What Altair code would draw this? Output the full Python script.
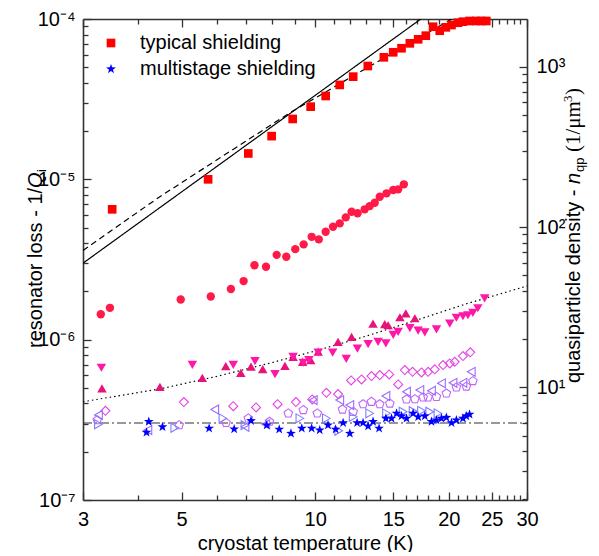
import altair as alt
import pandas as pd

# ---------------- data ----------------
# typical shielding (filled squares)
sq_T = [3.49, 5.74, 7.07, 7.98, 8.90, 9.77, 10.56, 11.36, 12.18, 13.14, 14.28, 14.99, 15.65,
        16.34, 17.06, 17.75, 18.43, 19.08, 19.69, 20.28, 20.98, 21.52, 22.27, 23.06, 23.67, 24.29]
sq_L = [6.5e-6, 1.0e-5, 1.45e-5, 1.86e-5, 2.38e-5, 2.84e-5, 3.31e-5, 3.88e-5, 4.37e-5, 5.09e-5,
        5.77e-5, 6.20e-5, 6.57e-5, 7.05e-5, 7.47e-5, 7.87e-5, 8.95e-5, 8.45e-5, 8.87e-5, 9.17e-5,
        9.48e-5, 9.62e-5, 9.72e-5, 9.72e-5, 9.72e-5, 9.72e-5]
# filled circles
ci_T = [3.29, 3.45, 4.98, 5.82, 6.46, 6.90, 7.30, 7.75, 8.19, 8.61, 9.02, 9.42, 9.82, 10.19,
        10.56, 10.97, 11.36, 11.72, 12.08, 12.46, 12.93, 13.27, 13.62, 13.98, 14.48, 14.99, 15.38, 15.84]
ci_L = [1.44e-6, 1.58e-6, 1.78e-6, 1.86e-6, 2.07e-6, 2.32e-6, 2.91e-6, 2.85e-6, 3.38e-6, 3.29e-6,
        3.67e-6, 3.93e-6, 4.38e-6, 4.22e-6, 4.71e-6, 5.06e-6, 5.31e-6, 5.79e-6, 6.28e-6, 6.14e-6,
        6.50e-6, 6.81e-6, 7.14e-6, 7.79e-6, 8.18e-6, 8.58e-6, 8.66e-6, 9.31e-6]
# filled up triangles
up_T = [3.31, 4.47, 5.57, 6.29, 6.80, 7.17, 7.62, 8.55, 8.92, 9.37, 9.77, 10.16, 11.26, 12.08,
        13.50, 14.35, 14.60, 15.52, 16.00, 16.77]
up_L = [4.97e-7, 5.08e-7, 5.78e-7, 6.84e-7, 6.21e-7, 6.78e-7, 6.56e-7, 6.87e-7, 7.82e-7, 7.28e-7,
        7.46e-7, 8.41e-7, 9.70e-7, 1.04e-6, 1.26e-6, 1.25e-6, 1.23e-6, 1.38e-6, 1.46e-6, 1.36e-6]
# filled down triangles
dn_T = [3.30, 5.29, 6.54, 7.32, 8.12, 8.92, 9.40, 9.68, 10.16, 10.95, 11.75, 12.45, 13.16, 13.86,
        14.43, 14.99, 15.38, 16.34, 17.06, 17.66, 18.76, 20.10, 20.80, 21.52, 22.08, 22.66, 23.25, 24.08]
dn_L = [6.68e-7, 6.97e-7, 6.97e-7, 7.35e-7, 6.10e-7, 7.82e-7, 7.18e-7, 7.46e-7, 8.30e-7, 8.30e-7,
        7.60e-7, 8.80e-7, 9.39e-7, 9.70e-7, 9.48e-7, 1.07e-6, 1.12e-6, 1.18e-6, 1.14e-6, 1.11e-6,
        1.16e-6, 1.26e-6, 1.37e-6, 1.40e-6, 1.42e-6, 1.47e-6, 1.57e-6, 1.81e-6]
# open diamonds
di_T = [3.37, 5.06, 6.54, 7.36, 8.23, 9.05, 9.85, 10.60, 11.26, 12.05, 12.72, 13.39, 13.98, 14.68,
        15.38, 15.92, 16.57, 17.36, 17.96, 18.59, 19.41, 20.10, 20.62, 21.52, 22.35]
di_L = [3.60e-7, 4.08e-7, 3.85e-7, 3.78e-7, 3.96e-7, 4.08e-7, 4.24e-7, 4.66e-7, 4.58e-7, 5.57e-7,
        5.65e-7, 5.93e-7, 6.01e-7, 6.07e-7, 5.26e-7, 6.46e-7, 6.30e-7, 6.25e-7, 6.30e-7, 6.53e-7,
        6.94e-7, 7.11e-7, 7.28e-7, 7.90e-7, 8.34e-7]
# open pentagons
pe_T = [3.23, 4.94, 6.30, 7.07, 7.89, 8.70, 9.40, 10.11, 11.52, 12.18, 12.82, 13.39, 13.98, 14.73,
        16.06, 16.77, 17.51, 17.96, 18.76, 19.75, 20.80, 21.90, 22.66]
pe_L = [3.15e-7, 2.93e-7, 3.03e-7, 3.23e-7, 3.08e-7, 3.47e-7, 3.64e-7, 3.47e-7, 3.67e-7, 3.55e-7,
        3.96e-7, 4.10e-7, 3.96e-7, 4.00e-7, 4.24e-7, 4.26e-7, 4.37e-7, 4.37e-7, 4.40e-7, 4.62e-7,
        5.04e-7, 5.10e-7, 5.52e-7]
# open left triangles
lt_T = [3.25, 4.20, 5.94, 6.95, 7.74, 9.90, 11.36, 11.97, 14.43, 16.06, 17.21, 18.28, 19.25, 20.44, 21.52, 22.47]
lt_L = [3.39e-7, 2.73e-7, 3.67e-7, 2.86e-7, 2.97e-7, 4.20e-7, 4.20e-7, 3.91e-7, 4.45e-7, 4.73e-7,
        4.85e-7, 4.80e-7, 5.34e-7, 5.38e-7, 5.38e-7, 6.30e-7]
# open right triangles
rt_T = [3.25, 4.83, 6.20, 6.95, 9.24, 10.60, 11.30, 12.18, 13.27, 14.48, 15.78, 16.62, 17.36, 18.12, 18.91]
rt_L = [2.97e-7, 2.82e-7, 3.23e-7, 2.93e-7, 3.23e-7, 3.23e-7, 2.70e-7, 3.30e-7, 3.47e-7, 3.47e-7,
        3.55e-7, 3.58e-7, 3.60e-7, 3.55e-7, 3.47e-7]
# multistage shielding (stars)
st_T = [4.17, 4.22, 4.53, 5.77, 6.57, 7.17, 7.78, 8.30, 8.82, 9.33, 9.82, 10.24, 10.69, 11.12, 11.56,
        11.97, 12.43, 12.82, 13.16, 13.50, 13.93, 14.43, 14.86, 15.25, 15.65, 16.06, 16.62, 17.06,
        17.66, 18.28, 18.76, 19.25, 19.75, 20.28, 20.80, 21.52, 21.90, 22.27]
st_L = [2.64e-7, 3.08e-7, 2.86e-7, 2.80e-7, 2.77e-7, 3.12e-7, 2.93e-7, 2.76e-7, 2.60e-7, 2.80e-7,
        2.80e-7, 2.73e-7, 2.93e-7, 2.76e-7, 3.03e-7, 2.60e-7, 3.03e-7, 3.03e-7, 2.89e-7, 3.08e-7,
        2.80e-7, 3.23e-7, 3.23e-7, 3.47e-7, 3.34e-7, 3.23e-7, 3.47e-7, 3.30e-7, 3.34e-7, 3.08e-7,
        3.15e-7, 3.23e-7, 3.27e-7, 3.03e-7, 3.15e-7, 3.23e-7, 3.34e-7, 3.42e-7]

# guide lines
solid_T = [3.0, 17.3]
solid_L = [3.0e-6, 1.0e-4]
dash_T = [3.0, 4.47, 8.77, 12.61, 20.3]
dash_L = [3.6e-6, 7.8e-6, 2.6e-5, 4.67e-5, 1.0e-4]
dot_T = [3.0, 4.5, 6.0, 8.0, 10.0, 13.0, 17.0, 22.0, 30.0]
dot_L = [4.1e-7, 4.95e-7, 5.9e-7, 7.2e-7, 8.5e-7, 1.05e-6, 1.33e-6, 1.68e-6, 2.16e-6]
dd_T = [3.0, 30.0]
dd_N = [6.0, 6.0]          # quasiparticle density floor (1/um^3)

# axes
x_major = [3, 5, 10, 15, 20, 25, 30]
x_minor = [t for t in range(4, 30) if t not in x_major]
y_major = [1e-7, 1e-6, 1e-5, 1e-4]
y_minor = [k * 10.0 ** e for e in (-7, -6, -5) for k in range(2, 10)]
n_major = [10, 100, 1000]
n_minor = [k * 10.0 ** e for e in (0, 1, 2) for k in range(2, 10)]

legend_names = ["typical shielding", "multistage shielding"]

# ---------------- styling ----------------
FONT = "Liberation Sans"
SERIF = "Liberation Serif"
AX = "#333333"
W, H = 444, 481
STAR = ("M0,-1L0.235,-0.324L0.951,-0.309L0.380,0.124L0.588,0.809L0,0.4L-0.588,0.809"
        "L-0.380,0.124L-0.951,-0.309L-0.235,-0.324Z")
PENT = "M0,-1L0.951,-0.309L0.588,0.809L-0.588,0.809L-0.951,-0.309Z"

xs = alt.Scale(type="log", domain=[3, 30], nice=False)
ys = alt.Scale(type="log", domain=[1e-7, 1e-4], nice=False)
ns = alt.Scale(type="log", domain=[1.985, 1985], nice=False)

# inward ticks: an axis of the opposite orientation shifted onto the frame edge
FLIP = {"left": ("right", -W), "right": ("left", -W), "bottom": ("top", -H), "top": ("bottom", -H)}


def tick_axis(side, values, size):
    orient, off = FLIP[side]
    return alt.Axis(orient=orient, offset=off, values=values, labels=False, ticks=True,
                    domain=False, tickSize=size, tickColor=AX, tickWidth=1.3,
                    grid=False, title=None)


def frame_axis(side):
    return alt.Axis(orient=side, values=[], labels=False, ticks=False, domain=True,
                    domainColor=AX, domainWidth=1.6, grid=False, title=None)


lab = dict(labelFont=FONT, labelFontSize=20, labelColor="black", labelFlush=False,
           labelOverlap=False, ticks=False, domain=True, domainColor=AX, domainWidth=1.6, grid=False)

x_lab = alt.Axis(orient="bottom", values=x_major, format="d", labelPadding=9,
                 title="cryostat temperature (K)", titleFont=FONT, titleFontSize=20,
                 titleFontWeight="normal", titleColor="black", titleY=49,
                 titleBaseline="alphabetic", **lab)
y_lab = alt.Axis(orient="left", values=y_major, labelPadding=8, title=None,
                 labelExpr="datum.value < 3e-7 ? '10⁻⁷' : datum.value < 3e-6 ? '10⁻⁶' : "
                           "datum.value < 3e-5 ? '10⁻⁵' : '10⁻⁴'", **lab)
n_lab = alt.Axis(orient="right", values=n_major, labelPadding=9, title=None,
                 labelExpr="datum.value < 30 ? '10¹' : datum.value < 300 ? '10²' : '10³'", **lab)

# ---------------- layers ----------------
lines_df = pd.concat([
    pd.DataFrame({"T": solid_T, "L": solid_L, "line": "solid", "ord": range(len(solid_T))}),
    pd.DataFrame({"T": dash_T, "L": dash_L, "line": "dashed", "ord": range(len(dash_T))}),
    pd.DataFrame({"T": dot_T, "L": dot_L, "line": "dotted", "ord": range(len(dot_T))}),
])
lines = alt.Chart(lines_df).mark_line(color="black", strokeWidth=1.2, clip=True).encode(
    x=alt.X("T:Q", scale=xs, axis=x_lab),
    y=alt.Y("L:Q", scale=ys, axis=y_lab),
    strokeDash=alt.StrokeDash("line:N", scale=alt.Scale(domain=["solid", "dashed", "dotted"],
                                                        range=[[1, 0], [6, 4], [1.5, 3]]), legend=None),
    detail="line:N",
    order="ord:Q",
)

dd_df = pd.DataFrame({"T": dd_T, "n": dd_N})
dashdot = alt.Chart(dd_df).mark_line(color="#333333", strokeWidth=1.2, strokeDash=[9, 3, 2, 3]).encode(
    x=alt.X("T:Q", scale=xs, axis=frame_axis("top")),
    y=alt.Y("n:Q", scale=ns, axis=n_lab),
)
inv1 = alt.Chart(dd_df).mark_line(opacity=0).encode(
    x=alt.X("T:Q", scale=xs, axis=tick_axis("bottom", x_major, 8)),
    y=alt.Y("n:Q", scale=ns, axis=tick_axis("right", n_major, 8)),
)
inv2 = alt.Chart(dd_df).mark_line(opacity=0).encode(
    x=alt.X("T:Q", scale=xs, axis=tick_axis("bottom", x_minor, 5)),
    y=alt.Y("n:Q", scale=ns, axis=tick_axis("right", n_minor, 5)),
)


def pts(T, L, shape, color, size, filled, xaxis=None, yaxis=None):
    df = pd.DataFrame({"T": T, "L": L})
    if filled:
        mk = alt.Chart(df).mark_point(shape=shape, filled=True, fill=color, strokeWidth=0,
                                      size=size, opacity=1)
    else:
        mk = alt.Chart(df).mark_point(shape=shape, filled=False, stroke=color, strokeWidth=1.1,
                                      size=size, opacity=1)
    return mk.encode(x=alt.X("T:Q", scale=xs, axis=xaxis), y=alt.Y("L:Q", scale=ys, axis=yaxis))


diam = pts(di_T, di_L, "diamond", "#e640e6", 80, False,
           xaxis=tick_axis("top", x_major, 8), yaxis=tick_axis("left", y_major, 8))
pent = pts(pe_T, pe_L, PENT, "#c266f5", 80, False,
           xaxis=tick_axis("top", x_minor, 5), yaxis=tick_axis("left", y_minor, 5))
ltri = pts(lt_T, lt_L, "triangle-left", "#9a6cff", 80, False)
rtri = pts(rt_T, rt_L, "triangle-right", "#7f7cff", 80, False)
upt = pts(up_T, up_L, "triangle-up", "#e8127a", 90, True)
dnt = pts(dn_T, dn_L, "triangle-down", "#ff18a8", 90, True)
circ = pts(ci_T, ci_L, "circle", "#ff1a48", 70, True)

leg_df = pd.concat([
    pd.DataFrame({"T": sq_T, "L": sq_L, "series": legend_names[0]}),
    pd.DataFrame({"T": st_T, "L": st_L, "series": legend_names[1]}),
])
legend = alt.Legend(orient="none", legendX=18, legendY=14, title=None, labelFont=FONT,
                    labelFontSize=20, labelColor="black", labelOffset=19, labelLimit=400,
                    symbolSize=85, symbolStrokeWidth=0, rowPadding=6, padding=0)
main = alt.Chart(leg_df).mark_point(filled=True, opacity=1, strokeWidth=0).encode(
    x=alt.X("T:Q", scale=xs, axis=None),
    y=alt.Y("L:Q", scale=ys, axis=None),
    color=alt.Color("series:N", scale=alt.Scale(domain=legend_names, range=["#ff0000", "#0000ff"]),
                    legend=legend),
    shape=alt.Shape("series:N", scale=alt.Scale(domain=legend_names, range=["square", STAR]),
                    legend=legend),
    size=alt.Size("series:N", scale=alt.Scale(domain=legend_names, range=[75, 105]), legend=None),
)


def txt(s, x, y, size=20, style="normal", font=FONT):
    return alt.Chart(pd.DataFrame({"d": [0]})).mark_text(
        text=s, font=font, fontSize=size, fontStyle=style, angle=270, align="left",
        baseline="alphabetic", color="black").encode(x=alt.value(x), y=alt.value(y))


titles = [
    txt("resonator loss - 1/", -41, 329),
    txt("Q", -41, 169, style="italic"),
    txt("i", -37, 153, size=13),
    txt("quasiparticle density - ", 497, 364),
    txt("n", 497, 165, style="italic"),
    txt("qp", 501, 153, size=13),
    txt("(1/μm", 497, 133, size=21, font=SERIF),
    txt("3", 489, 83, size=13, font=SERIF),
    txt(")", 497, 76, size=21, font=SERIF),
]

chart = alt.layer(lines, dashdot, inv1, inv2, diam, pent, ltri, rtri, upt, dnt, circ, main, *titles
).resolve_scale(y="independent").resolve_axis(x="independent", y="independent").properties(
    width=W, height=H,
    padding={"left": 75, "top": 11, "right": 64, "bottom": 52},
    autosize=alt.AutoSizeParams(type="none"),
    background="white",
).configure_view(strokeWidth=0)

chart.save("out.html", embed_options={"renderer": "svg", "actions": False})
